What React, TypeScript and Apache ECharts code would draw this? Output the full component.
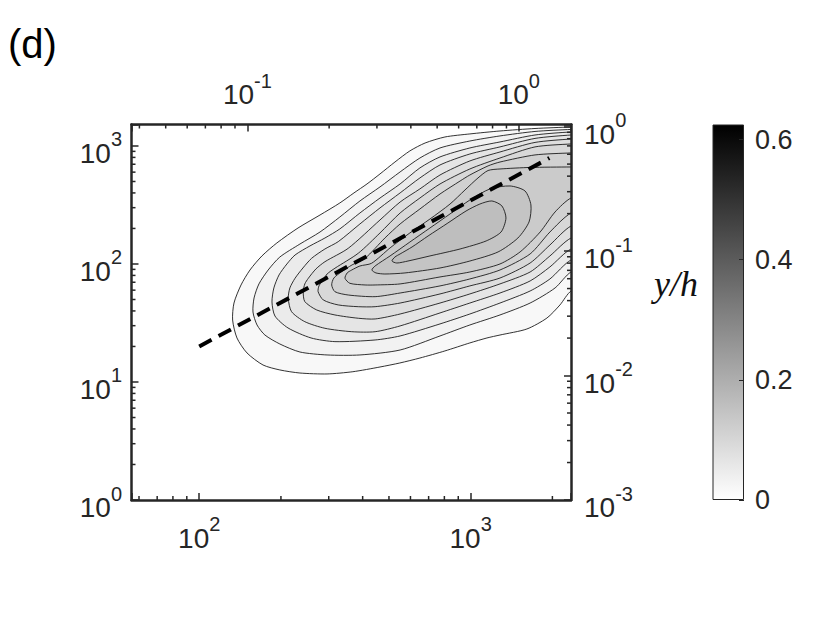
import React, { useEffect, useRef } from "react";
import * as echarts from "echarts";

// ---- axis ranges (data units) ----
const xRange = [56.3, 2342]; // bottom x (wall units)
const yRange = [1, 1520]; // left y+
const yhRange = [0.001, 1.04]; // right y/h
const topScale = 1505; // top axis = x / topScale
const cbarRange = [0, 0.625];
const cbarTicks = [0, 0.2, 0.4, 0.6];

// ---- minor tick values ----
const xMinorTicks = [60, 70, 80, 90, 200, 300, 400, 500, 600, 700, 800, 900, 2000];
const topMinorTicks = [0.04, 0.05, 0.06, 0.07, 0.08, 0.09, 0.2, 0.3, 0.4, 0.5, 0.6, 0.7, 0.8, 0.9];
const yMinorTicks = [2, 3, 4, 5, 6, 7, 8, 9, 20, 30, 40, 50, 60, 70, 80, 90, 200, 300, 400, 500, 600, 700, 800, 900];
const yhMinorTicks = [0.002, 0.003, 0.004, 0.005, 0.006, 0.007, 0.008, 0.009, 0.02, 0.03, 0.04, 0.05, 0.06, 0.07, 0.08, 0.09, 0.2, 0.3, 0.4, 0.5, 0.6, 0.7, 0.8, 0.9];

// ---- contour levels (outer -> inner) ----
const contourLevels = [0.016, 0.032, 0.048, 0.064, 0.08, 0.096, 0.112, 0.128, 0.144, 0.16];

// contour vertices in decades: [log10(x), log10(y+)]
const contour1 = [[2.123,1.525],[2.128,1.669],[2.154,1.822],[2.187,1.949],[2.231,2.068],[2.286,2.178],[2.364,2.305],[2.445,2.415],[2.518,2.517],[2.570,2.602],[2.618,2.678],[2.666,2.763],[2.721,2.864],[2.776,2.958],[2.832,3.025],[2.905,3.076],[2.997,3.102],[3.108,3.127],[3.237,3.148],[3.370,3.161],[3.476,3.169],[3.476,1.864],[3.370,1.771],[3.329,1.653],[3.281,1.542],[3.207,1.449],[3.108,1.398],[3.060,1.373],[2.997,1.331],[2.905,1.263],[2.813,1.203],[2.739,1.161],[2.666,1.127],[2.566,1.087],[2.471,1.068],[2.371,1.076],[2.297,1.102],[2.235,1.144],[2.176,1.246],[2.139,1.373]];
const contour2 = [[2.198,1.593],[2.202,1.712],[2.220,1.831],[2.254,1.949],[2.297,2.059],[2.371,2.169],[2.445,2.271],[2.518,2.398],[2.592,2.534],[2.666,2.653],[2.740,2.780],[2.813,2.898],[2.887,2.983],[2.997,3.042],[3.108,3.085],[3.237,3.123],[3.370,3.140],[3.476,3.144],[3.476,1.992],[3.370,1.932],[3.311,1.797],[3.219,1.669],[3.108,1.568],[2.997,1.483],[2.887,1.390],[2.740,1.271],[2.592,1.229],[2.471,1.229],[2.371,1.254],[2.297,1.322],[2.242,1.398],[2.213,1.483]];
const contour3 = [[2.268,1.678],[2.275,1.797],[2.294,1.907],[2.323,2.000],[2.353,2.076],[2.408,2.153],[2.463,2.220],[2.518,2.297],[2.592,2.432],[2.666,2.559],[2.740,2.678],[2.813,2.814],[2.887,2.907],[2.997,2.983],[3.108,3.034],[3.237,3.093],[3.370,3.119],[3.476,3.127],[3.476,2.076],[3.370,2.034],[3.292,1.873],[3.219,1.771],[3.108,1.669],[2.997,1.576],[2.887,1.492],[2.740,1.390],[2.648,1.356],[2.500,1.342],[2.412,1.373],[2.327,1.458],[2.279,1.559]];
const contour4 = [[2.328,1.709],[2.334,1.797],[2.353,1.879],[2.382,1.966],[2.414,2.048],[2.463,2.127],[2.512,2.189],[2.592,2.339],[2.666,2.475],[2.740,2.602],[2.813,2.729],[2.887,2.839],[2.997,2.932],[3.108,2.992],[3.237,3.064],[3.370,3.093],[3.476,3.102],[3.476,2.161],[3.370,2.127],[3.292,1.975],[3.219,1.856],[3.108,1.754],[2.997,1.669],[2.887,1.585],[2.740,1.475],[2.648,1.426],[2.562,1.426],[2.463,1.455],[2.389,1.511],[2.340,1.596]];
const contour5 = [[2.383,1.765],[2.389,1.831],[2.402,1.879],[2.430,1.958],[2.463,2.019],[2.549,2.133],[2.666,2.373],[2.740,2.525],[2.813,2.636],[2.887,2.754],[2.997,2.873],[3.108,2.949],[3.237,3.030],[3.370,3.059],[3.476,3.068],[3.476,2.263],[3.370,2.220],[3.292,2.068],[3.219,1.932],[3.108,1.831],[2.997,1.746],[2.887,1.669],[2.740,1.576],[2.648,1.534],[2.586,1.540],[2.500,1.568],[2.433,1.610],[2.389,1.681]];
const contour6 = [[2.438,1.765],[2.441,1.814],[2.451,1.850],[2.471,1.915],[2.500,1.964],[2.586,2.091],[2.666,2.263],[2.740,2.432],[2.813,2.559],[2.887,2.678],[2.997,2.805],[3.108,2.898],[3.237,2.992],[3.370,3.017],[3.476,3.025],[3.476,2.373],[3.370,2.322],[3.292,2.161],[3.219,2.008],[3.108,1.881],[2.997,1.814],[2.887,1.746],[2.740,1.669],[2.648,1.638],[2.586,1.638],[2.512,1.653],[2.457,1.695]];
const contour7 = [[2.488,1.822],[2.496,1.881],[2.525,1.935],[2.563,1.992],[2.611,2.048],[2.684,2.220],[2.740,2.339],[2.813,2.466],[2.887,2.593],[2.961,2.703],[2.997,2.754],[3.064,2.831],[3.108,2.864],[3.237,2.924],[3.370,2.941],[3.476,2.949],[3.476,2.483],[3.370,2.432],[3.292,2.271],[3.219,2.085],[3.108,1.949],[2.997,1.873],[2.887,1.814],[2.740,1.754],[2.648,1.723],[2.549,1.737],[2.500,1.765]];
const contour8 = [[2.537,1.879],[2.545,1.924],[2.562,1.949],[2.592,1.983],[2.635,2.006],[2.703,2.136],[2.776,2.263],[2.850,2.381],[2.924,2.508],[2.979,2.627],[3.027,2.729],[3.064,2.792],[3.108,2.805],[3.219,2.818],[3.370,2.822],[3.476,2.822],[3.476,2.610],[3.370,2.559],[3.311,2.441],[3.256,2.271],[3.182,2.102],[3.108,2.000],[2.997,1.932],[2.887,1.890],[2.740,1.831],[2.648,1.822],[2.611,1.822],[2.555,1.836]];
const contour9 = [[2.636,1.949],[2.648,1.983],[2.703,2.068],[2.776,2.186],[2.850,2.305],[2.924,2.424],[2.997,2.542],[3.071,2.636],[3.145,2.661],[3.200,2.619],[3.222,2.500],[3.215,2.356],[3.174,2.220],[3.101,2.102],[2.997,2.025],[2.887,1.966],[2.758,1.924],[2.684,1.915],[2.651,1.924]];
const contour10 = [[2.710,2.025],[2.721,2.059],[2.740,2.085],[2.784,2.144],[2.843,2.237],[2.916,2.347],[2.983,2.449],[3.034,2.508],[3.078,2.534],[3.115,2.492],[3.130,2.390],[3.112,2.271],[3.057,2.195],[2.961,2.127],[2.850,2.068],[2.769,2.025],[2.728,2.008]];

// dashed fit line (x, y+)
const dashedFit = [[100, 20], [1950, 790]];

const contourSets = [contour1, contour2, contour3, contour4, contour5, contour6, contour7, contour8, contour9, contour10];

const FONT = '"Liberation Sans", Arial, Helvetica, sans-serif';
const AX = "#262626";

function supLabel(v: number) {
  const l = Math.log10(v);
  const e = Math.round(l);
  if (Math.abs(l - e) > 1e-6) return "";
  return `{b|10}{s|${e}}`;
}

const rich = {
  b: { fontSize: 28, lineHeight: 28, padding: [15, 0, 0, 0], color: AX, fontFamily: FONT },
  s: { fontSize: 20, lineHeight: 33, verticalAlign: "top", color: AX, fontFamily: FONT },
};

function grayOf(level: number) {
  const g = Math.round(255 * (1 - level / cbarRange[1]));
  return `rgb(${g},${g},${g})`;
}

function tickRenderer(dx: number, dy: number) {
  return (params: any, api: any) => {
    const p = api.coord([api.value(0), api.value(1)]);
    return {
      type: "line",
      shape: { x1: p[0], y1: p[1], x2: p[0] + dx, y2: p[1] + dy },
      style: { stroke: AX, lineWidth: 1.5 },
    };
  };
}

function mainAxisCommon(labelMargin: number) {
  return {
    axisLine: { show: true, onZero: false, lineStyle: { color: AX, width: 2.5 } },
    axisTick: { show: true, inside: true, length: 7, lineStyle: { color: AX, width: 1.5 } },
    axisLabel: { formatter: supLabel, rich, margin: labelMargin },
    splitLine: { show: false },
    minorTick: { show: false },
    z: 5,
  };
}

export default function App() {
  const ref = useRef<HTMLDivElement>(null);
  useEffect(() => {
    if (!ref.current) return;
    const chart = echarts.init(ref.current, undefined, { renderer: "svg" });
    const option: any = {
      animation: false,
      backgroundColor: "#ffffff",
      textStyle: { fontFamily: FONT },
      grid: [
        { left: 131.5, top: 124.5, width: 439.5, height: 375.5 },
        { left: 712.5, top: 124.5, width: 31.5, height: 375.5 },
      ],
      xAxis: [
        { type: "log", gridIndex: 0, position: "bottom", min: xRange[0], max: xRange[1], ...mainAxisCommon(14) },
        { type: "log", gridIndex: 0, position: "top", min: xRange[0] / topScale, max: xRange[1] / topScale, ...mainAxisCommon(21) },
        { type: "category", gridIndex: 1, data: ["cb"], show: false },
      ],
      yAxis: [
        { type: "log", gridIndex: 0, position: "left", min: yRange[0], max: yRange[1], ...mainAxisCommon(9.5) },
        { type: "log", gridIndex: 0, position: "right", min: yhRange[0], max: yhRange[1], ...mainAxisCommon(13) },
        {
          type: "value",
          gridIndex: 1,
          position: "right",
          min: cbarRange[0],
          max: cbarRange[1],
          interval: 0.2,
          axisLine: { show: false },
          axisTick: { show: true, inside: true, length: 5, lineStyle: { color: AX, width: 1 } },
          axisLabel: {
            margin: 11,
            fontSize: 27,
            color: AX,
            fontFamily: FONT,
            showMaxLabel: false,
            formatter: (v: number) => {
              const hit = cbarTicks.find((t) => Math.abs(t - v) < 1e-9);
              return hit === undefined ? "" : String(hit);
            },
          },
          splitLine: { show: false },
          z: 5,
        },
      ],
      series: [
        {
          type: "custom",
          name: "contours",
          xAxisIndex: 0,
          yAxisIndex: 0,
          clip: true,
          z: 2,
          data: contourSets.map((c, i) => [Math.pow(10, c[0][0]), Math.pow(10, c[0][1]), i]),
          renderItem: (params: any, api: any) => {
            const k = api.value(2);
            const pts = contourSets[k].map((p) => api.coord([Math.pow(10, p[0]), Math.pow(10, p[1])]));
            return {
              type: "polygon",
              shape: { points: pts, smooth: 0.25 },
              style: { fill: grayOf(contourLevels[k]), stroke: "#1c1c1c", lineWidth: 0.9 },
            };
          },
        },
        {
          type: "line",
          name: "fit",
          xAxisIndex: 0,
          yAxisIndex: 0,
          data: dashedFit,
          symbol: "none",
          z: 3,
          lineStyle: { color: "#000", width: 4, type: [14, 8] },
        },
        {
          type: "custom",
          name: "xMinor",
          xAxisIndex: 0,
          yAxisIndex: 0,
          z: 6,
          data: xMinorTicks.map((v) => [v, yRange[0]]),
          renderItem: tickRenderer(0, -4),
        },
        {
          type: "custom",
          name: "topMinor",
          xAxisIndex: 1,
          yAxisIndex: 0,
          z: 6,
          data: topMinorTicks.map((v) => [v, yRange[1]]),
          renderItem: tickRenderer(0, 4),
        },
        {
          type: "custom",
          name: "yMinor",
          xAxisIndex: 0,
          yAxisIndex: 0,
          z: 6,
          data: yMinorTicks.map((v) => [xRange[0], v]),
          renderItem: tickRenderer(4, 0),
        },
        {
          type: "custom",
          name: "yhMinor",
          xAxisIndex: 0,
          yAxisIndex: 1,
          z: 6,
          data: yhMinorTicks.map((v) => [xRange[1], v]),
          renderItem: tickRenderer(-4, 0),
        },
        {
          type: "bar",
          name: "colorbar",
          xAxisIndex: 2,
          yAxisIndex: 2,
          data: [cbarRange[1]],
          barWidth: "100%",
          silent: true,
          itemStyle: {
            color: new echarts.graphic.LinearGradient(0, 0, 0, 1, [
              { offset: 0, color: "#000000" },
              { offset: 1, color: "#ffffff" },
            ]),
            borderColor: AX,
            borderWidth: 1,
          },
        },
      ],
      graphic: [
        {
          type: "text",
          left: 8,
          top: 24,
          style: { text: "(d)", font: `40px ${FONT}`, fill: "#000" },
        },
        {
          type: "text",
          x: 676,
          y: 284,
          style: {
            text: "y/h",
            font: `italic 36px "Liberation Serif", "Times New Roman", serif`,
            fill: "#111",
            textAlign: "center",
            textVerticalAlign: "middle",
          },
        },
      ],
    };
    chart.setOption(option);
    return () => chart.dispose();
  }, []);
  return (
    <div
      ref={ref}
      style={{ position: "fixed", left: 0, top: 0, width: 830, height: 623, background: "#fff" }}
    />
  );
}
